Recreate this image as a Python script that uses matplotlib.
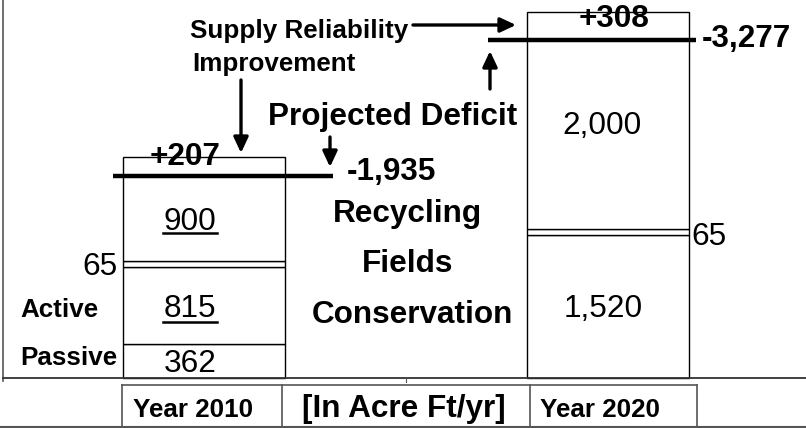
import matplotlib
matplotlib.use("Agg")
import matplotlib.pyplot as plt

plt.rcParams['font.family'] = ['Liberation Sans', 'DejaVu Sans']

# ---------------- data ----------------
years = ['Year 2010', 'Year 2020']
segments_2010 = [362, 815, 65, 900, 207]      # Passive, Active, Fields, Recycling, Reliability
segments_2020 = [1520, 65, 2000, 308]         # Conservation, Fields, Recycling, Reliability
deficits = [-1935, -3277]
improvements = [207, 308]
unit_label = '[In Acre Ft/yr]'

W, H = 806, 428
fig = plt.figure(figsize=(W / 100, H / 100), dpi=100)
ax = fig.add_axes([0, 0, 1, 1])

# scales: pixel geometry of the reference
k = 366.5 / 3893.0          # px per acre-ft
base_px = 378.0
ax.set_ylim(-(H - base_px) / k, base_px / k)
xc0, xsp = 204.0, 403.5
ax.set_xlim(-xc0 / xsp, (W - xc0) / xsp)
ax.axis('off')


def P(px, py):
    """pixel (from top-left) -> figure fraction"""
    return (px / W, 1 - py / H)


FT = fig.transFigure
BIG = 22.7
MED = 18.7
bar_w = 162 / xsp

# ---------------- bars ----------------
for xi, segs in enumerate([segments_2010, segments_2020]):
    bottom = 0
    for v in segs:
        ax.bar(xi, v, bottom=bottom, width=bar_w, color='white',
               edgecolor='black', linewidth=1.0, zorder=2)
        bottom += v

# deficit lines (top of segments below the reliability improvement)
line_ext = [(113 - xc0) / xsp, (333 - xc0) / xsp], [(488 - xc0) / xsp, (696 - xc0) / xsp]
for i, segs in enumerate([segments_2010, segments_2020]):
    yv = sum(segs) - improvements[i]
    ax.plot(line_ext[i], [yv, yv], color='black', lw=3.2, solid_capstyle='butt', zorder=4)

# ---------------- frame / table lines ----------------
grey = '#555555'
fig.add_artist(plt.Line2D([3 / W, 3 / W], [1 - 381 / H, 1], color=grey, lw=1.2, transform=FT))
fig.add_artist(plt.Line2D([3 / W, 1], [1 - base_px / H] * 2, color='#333333', lw=1.3, transform=FT))
fig.add_artist(plt.Line2D([406 / W] * 2, [1 - 378 / H, 1 - 382 / H], color=grey, lw=0.8, transform=FT))
fig.add_artist(plt.Line2D([0, 1], [1 - 427 / H] * 2, color=grey, lw=1.5, transform=FT))
fig.add_artist(plt.Line2D([122 / W, 697 / W], [1 - 385 / H] * 2, color=grey, lw=1.2, transform=FT))
for xv in [122, 282, 530, 697]:
    fig.add_artist(plt.Line2D([xv / W] * 2, [1 - 385 / H, 1 - 427 / H], color=grey, lw=1.2, transform=FT))

# ---------------- texts ----------------
def T(px, py, s, size=BIG, bold=False, ha='left'):
    fig.text(*P(px, py), s, fontsize=size, fontweight='bold' if bold else 'normal',
             ha=ha, va='baseline', color='black')

T(190, 38, 'Supply Reliability', MED, True)
T(192, 71, 'Improvement', MED, True)
T(268, 125, 'Projected Deficit', BIG, True)
T(185, 165, f'+{improvements[0]}', BIG, True, 'center')
T(614, 27, f'+{improvements[1]}', BIG, True, 'center')
T(347, 180, f'-{abs(deficits[0]):,}', BIG, True)
T(702, 47, f'-{abs(deficits[1]):,}', BIG, True)
T(407, 222, 'Recycling', BIG, True, 'center')
T(408, 272, 'Fields', BIG, True, 'center')
T(412, 323, 'Conservation', BIG, True, 'center')

# 2010 values
T(190, 230, f'{segments_2010[3]:,}', BIG, False, 'center')
T(190, 317, f'{segments_2010[1]:,}', BIG, False, 'center')
T(190, 372, f'{segments_2010[0]:,}', BIG, False, 'center')
T(118, 275, f'{segments_2010[2]:,}', BIG, False, 'right')
T(20, 317, 'Active', MED, True)
T(20, 365, 'Passive', MED, True)
for yy in [233, 322]:
    fig.add_artist(plt.Line2D([163 / W, 217 / W], [1 - yy / H] * 2, color='black', lw=1.8, transform=FT))

# 2020 values
T(602, 134, f'{segments_2020[2]:,}', BIG, False, 'center')
T(603, 317, f'{segments_2020[0]:,}', BIG, False, 'center')
T(691, 245, f'{segments_2020[1]:,}', BIG, False, 'left')

# table labels
T(133, 417, years[0], MED, True)
T(540, 417, years[1], MED, True)
T(302, 417, unit_label, BIG, True)

# ---------------- arrows ----------------
def arrow(x0, y0, x1, y1):
    fig.add_artist(matplotlib.patches.FancyArrowPatch(
        P(x0, y0), P(x1, y1), transform=FT,
        arrowstyle='-|>,head_length=0.47,head_width=0.22', mutation_scale=20,
        color='black', lw=2.4, shrinkA=0, shrinkB=0))

arrow(413, 25, 516, 25)
arrow(241, 80, 241, 153)
arrow(330, 137, 330, 167)
arrow(490, 89, 490, 51)

fig.savefig('out.png', dpi=100)
